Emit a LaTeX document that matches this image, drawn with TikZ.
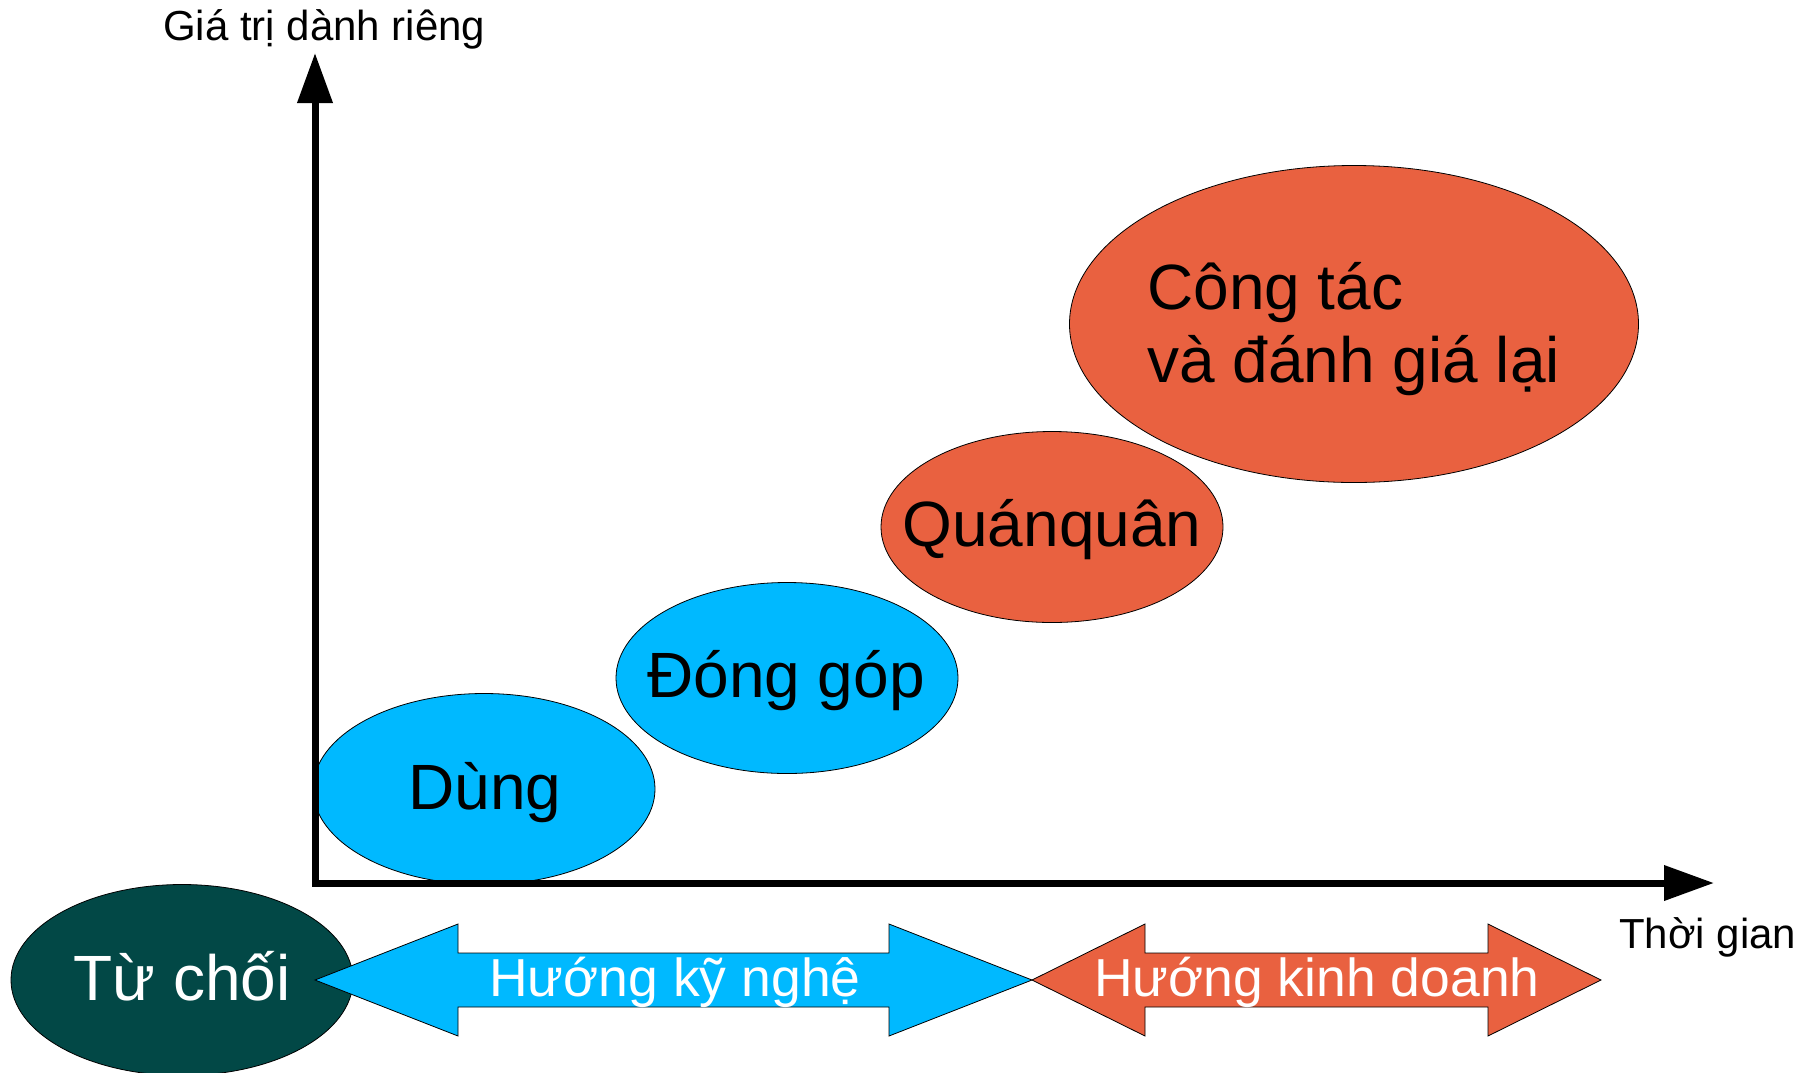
\documentclass[tikz,border=0pt]{standalone}
\usepackage{fontspec}
\setmainfont{Liberation Sans}
\usetikzlibrary{shapes.geometric,arrows.meta}
\definecolor{cblue}{RGB}{0,185,255}
\definecolor{corange}{RGB}{233,97,64}
\definecolor{cteal}{RGB}{2,72,70}
\tikzset{
  bubble/.style={ellipse, draw=black, line width=0.8pt, inner sep=0pt, minimum width=342pt, minimum height=191pt},
  bigtext/.style={font=\fontsize{64}{73}\selectfont, text=black, inner sep=0pt, anchor=base},
  axislabel/.style={font=\fontsize{42}{48}\selectfont, text=black, inner sep=0pt, anchor=base west},
  band/.style={draw=black, line width=0.8pt},
  bandtext/.style={font=\fontsize{53.5}{60}\selectfont, text=white, inner sep=0pt, anchor=base},
  axisline/.style={line width=7pt, line join=miter, {Triangle[length=50pt,width=34pt]}-{Triangle[length=50pt,width=34pt]}}
}
\begin{document}
\begin{tikzpicture}[x=1pt,y=-1pt]
\useasboundingbox (0,0) rectangle (1818,1072);

% bubbles
\node[bubble, fill=cteal] (tuchoi) at (182,980) {};
\node[bubble, fill=cblue] (dung) at (484,789) {};
\node[bubble, fill=cblue] (donggop) at (787,678) {};
\node[bubble, fill=corange] (quanquan) at (1052,527) {};
\node[bubble, fill=corange, minimum width=569pt, minimum height=317pt] (congtac) at (1354,324) {};

\node[bigtext, text=white] (tuchoitxt) at (182,1000) {Từ chối};
\node[bigtext] (dungtxt) at (485,809) {Dùng};
\node[bigtext] (donggoptxt) at (786,697) {Đóng góp};
\node[bigtext] (quanquantxt) at (1052,546) {Quánquân};
\node[bigtext, anchor=base west] (congtacA) at (1147,309) {Công tác};
\node[bigtext, anchor=base west] (congtacB) at (1147,382) {và đánh giá lại};

% double arrows
\path[band, fill=cblue] (315,980) -- (458,924) -- (458,953) -- (889,953) -- (889,924) -- (1032,980)
  -- (889,1036) -- (889,1007) -- (458,1007) -- (458,1036) -- cycle;
\path[band, fill=corange] (1032,980) -- (1145,924) -- (1145,953) -- (1488,953) -- (1488,924) -- (1601,980)
  -- (1488,1036) -- (1488,1007) -- (1145,1007) -- (1145,1036) -- cycle;
\node[bandtext] (kynghe) at (675,996) {Hướng kỹ nghệ};
\node[bandtext] (kinhdoanh) at (1317,996) {Hướng kinh doanh};

% axes
\coordinate (ytip) at (315,53);
\coordinate (origin) at (315,883);
\coordinate (xtip) at (1714,883);
\draw[axisline] (ytip) -- (origin) -- (xtip);
\node[axislabel] (ylab) at (163,40) {Giá trị dành riêng};
\node[axislabel] (xlab) at (1619,948) {Thời gian};
\end{tikzpicture}
\end{document}
